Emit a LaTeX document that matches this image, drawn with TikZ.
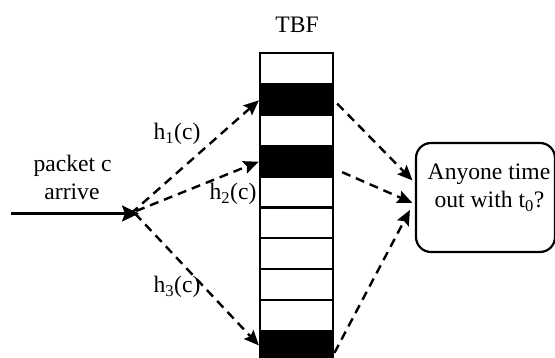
\documentclass[tikz,border=0pt]{standalone}
\usepackage{fontspec}
\setmainfont{Liberation Serif}
\usetikzlibrary{arrows.meta}
\begin{document}
\begin{tikzpicture}[x=1pt,y=-1pt,
  txt/.style={font=\fontsize{23.6}{28}\selectfont, inner sep=0pt, anchor=base},
  cellbox/.style={draw, line width=2.2pt, minimum width=73pt, minimum height=30.9pt,
    inner sep=0pt, outer sep=0pt},
  decision/.style={draw, line width=2.2pt, rounded corners=15pt, minimum width=139pt,
    minimum height=109pt, inner sep=0pt, outer sep=0pt},
  solidarrow/.style={line width=2.4pt, -{Stealth[length=17pt,width=16pt,inset=3pt]}},
  dasharrow/.style={line width=2.4pt, dash pattern=on 9pt off 6pt,
    -{Stealth[length=15pt,width=13pt,inset=2.5pt]}}
]
\useasboundingbox (0,0) rectangle (555,358);
\clip (0,0) rectangle (555,358);

% filter cells, top to bottom
\foreach \i/\f in {1/white,2/black,3/white,4/black,5/white,6/white,7/white,8/white,9/white,10/black}
  \node[cellbox, fill=\f] (c\i) at (296.5,{53+30.9*(\i-0.5)}) {};

\node[txt] (tbf) at (297,33) {TBF};

% incoming packet
\coordinate (in) at (11,213.5);
\coordinate (hub) at (139,213.5);
\draw[solidarrow] (in) -- (hub);
\node[txt] (pk1) at (72.5,172) {packet c};
\node[txt] (pk2) at (72,200) {arrive};

% hash functions
\draw[dasharrow, shorten >=1.5pt] ([xshift=-8pt]hub) -- (c2.west);
\draw[dasharrow, shorten >=1.5pt, shorten <=12pt] ([xshift=-14pt,yshift=-2pt]hub) -- (c4.west);
\draw[dasharrow, shorten >=1.5pt] ([xshift=-4pt]hub) -- (c10.west);
\node[txt] (h1) at (177,140) {h\textsubscript{1}(c)};
\node[txt] (h2) at (233,200) {h\textsubscript{2}(c)};
\node[txt] (h3) at (177,293) {h\textsubscript{3}(c)};

% timeout check
\node[decision] (box) at (485.5,197.5) {};
\node[txt] (q1) at (489,180) {Anyone time};
\node[txt] (q2) at (489.5,208) {out with t\textsubscript{0}?};

\draw[dasharrow, shorten <=6pt, shorten >=5pt] (c2.east) -- ([yshift=13.5pt]box.west);
\draw[dasharrow, shorten <=10pt, shorten >=4pt] ([yshift=-7pt]c4.east) -- ([yshift=-7pt]box.west);
\draw[dasharrow, shorten <=3pt, shorten >=13pt] ([yshift=-9pt]c10.east) -- ([yshift=-1pt]box.west);
\end{tikzpicture}
\end{document}
